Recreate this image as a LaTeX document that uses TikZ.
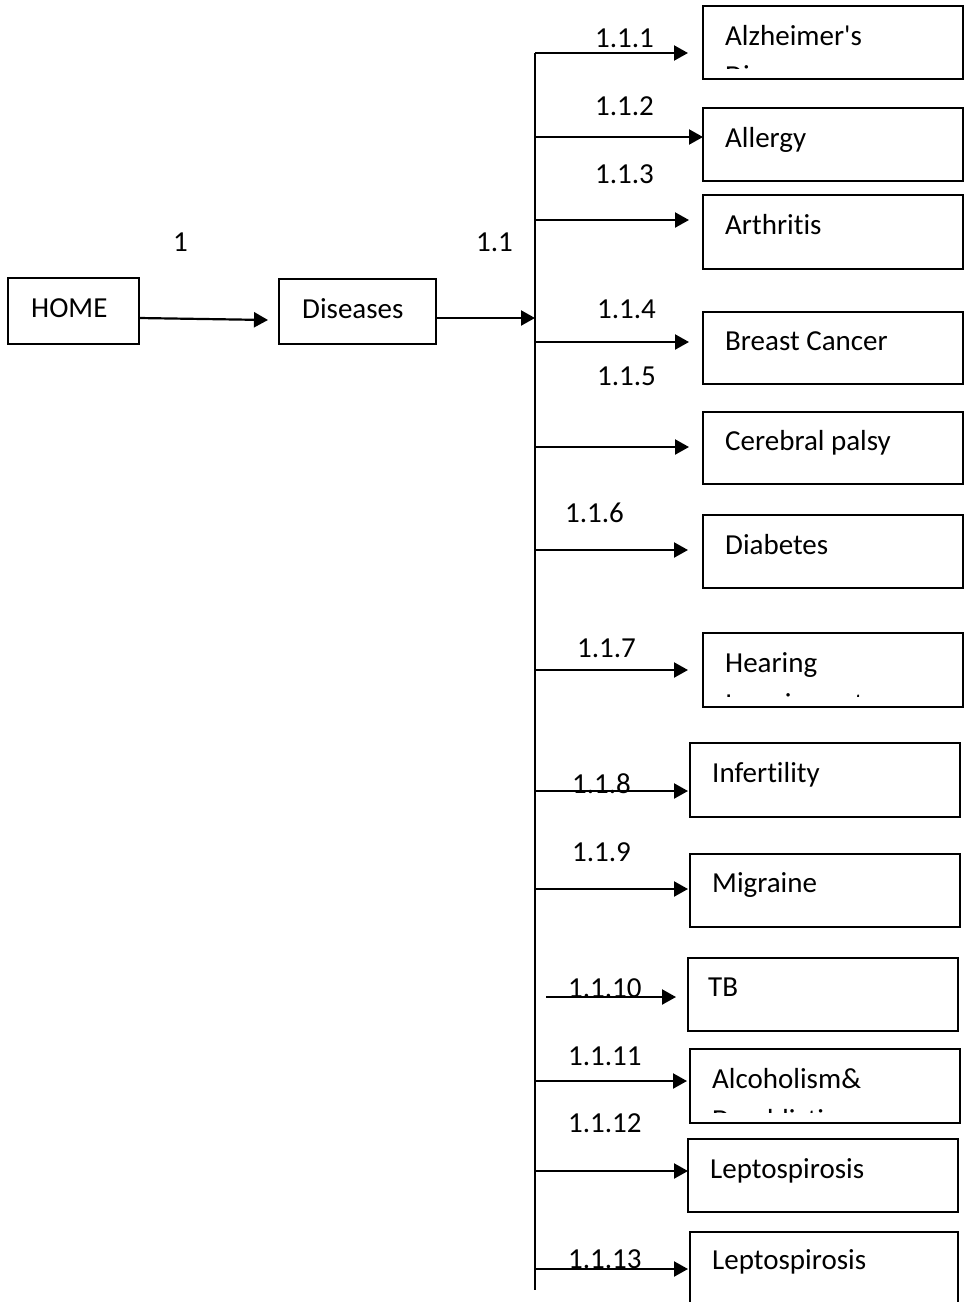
\documentclass[tikz,border=0pt]{standalone}
\usepackage{fontspec}
\setmainfont{Carlito}[Ligatures={NoCommon}]
\usetikzlibrary{arrows.meta}

\newcommand\labfont{\fontsize{29}{34}\selectfont}

\tikzset{
  box/.style={draw, line width=1.6pt, rectangle, inner sep=0pt, outer sep=0pt, anchor=north west},
  txt/.style={anchor=base west, inner sep=0pt, font=\labfont},
  conn/.style={line width=2.2pt, -{Triangle[length=14pt,width=15pt]}},
  trunkline/.style={line width=2pt}
}

\begin{document}
\begin{tikzpicture}[x=1pt, y=-1pt]
\useasboundingbox (0,0) rectangle (964,1302);

% top level pages
\node[box, minimum width=131pt, minimum height=66pt] (home) at (8,278) {};
\node[txt] (homet) at (31,317) {HOME};
\node[box, minimum width=157pt, minimum height=65pt] (dis) at (279,279) {};
\node[txt] (dist) at (302,318) {Diseases};
\node[txt] (l1) at (173,251) {1};
\node[txt] (l11) at (476,251) {1.1};

% vertical distribution line
\coordinate (ttop) at (535,53);
\coordinate (tbot) at (535,1290);
\coordinate (tin) at (535,318);
\draw[trunkline] (ttop) -- (tbot);

\draw[conn] ([yshift=-7pt]home.east) -- ([xshift=-11pt,yshift=-8.5pt]dis.west);
\draw[conn] ([yshift=-6.5pt]dis.east) -- (tin);

% disease pages
\node[box, minimum width=260pt, minimum height=73pt] (b1) at (703,6) {};
\node[box, minimum width=260pt, minimum height=73pt] (b2) at (703,108) {};
\node[box, minimum width=260pt, minimum height=74pt] (b3) at (703,195) {};
\node[box, minimum width=260pt, minimum height=72pt] (b4) at (703,312) {};
\node[box, minimum width=260pt, minimum height=72pt] (b5) at (703,412) {};
\node[box, minimum width=260pt, minimum height=73pt] (b6) at (703,515) {};
\node[box, minimum width=260pt, minimum height=74pt] (b7) at (703,633) {};
\node[box, minimum width=270pt, minimum height=74pt] (b8) at (690,743) {};
\node[box, minimum width=270pt, minimum height=73pt] (b9) at (690,854) {};
\node[box, minimum width=270pt, minimum height=73pt] (b10) at (688,958) {};
\node[box, minimum width=270pt, minimum height=74pt] (b11) at (690,1049) {};
\node[box, minimum width=270pt, minimum height=73pt] (b12) at (688,1139) {};
\node[box, minimum width=268pt, minimum height=80pt] (b13) at (690,1232) {};

\node[txt] (t1) at (725,45) {Alzheimer\textquotesingle s};
\node[txt] (t2) at (725,147) {Allergy};
\node[txt] (t3) at (725,234) {Arthritis};
\node[txt] (t4) at (725,350) {Breast Cancer};
\node[txt] (t5) at (725,450) {Cerebral palsy};
\node[txt] (t6) at (725,554) {Diabetes};
\node[txt] (t7) at (725,672) {Hearing};
\node[txt] (t8) at (712,782) {Infertility};
\node[txt] (t9) at (712,892) {Migraine};
\node[txt] (t10) at (708,996) {TB};
\node[txt] (t11) at (712,1088) {Alcoholism\&};
\node[txt] (t12) at (710,1178) {Leptospirosis};
\node[txt] (t13) at (712,1269) {Leptospirosis};

% second lines cut off by the text frames
\begin{scope}
  \clip (b1.north west) rectangle ([yshift=11pt]b1.south east);
  \node[txt] (t1b) at (725,85) {Disease};
\end{scope}
\begin{scope}
  \clip (b7.north west) rectangle ([yshift=11pt]b7.south east);
  \node[txt] (t7b) at (725,713) {Impairment};
\end{scope}
\begin{scope}
  \clip (b11.north west) rectangle ([yshift=11pt]b11.south east);
  \node[txt] (t11b) at (712,1129) {Deaddiction};
\end{scope}

% branch points on the vertical line
\coordinate (s1) at (535,53);
\coordinate (s2) at (535,137);
\coordinate (s3) at (535,220);
\coordinate (s4) at (535,342);
\coordinate (s5) at (535,447);
\coordinate (s6) at (535,550);
\coordinate (s7) at (535,670);
\coordinate (s8) at (535,791);
\coordinate (s9) at (535,889);
\coordinate (s10) at (546,997);
\coordinate (s11) at (535,1081);
\coordinate (s12) at (535,1171);
\coordinate (s13) at (535,1269);

\draw[conn] (s1) -- ([xshift=-15pt]b1.west |- s1);
\draw[conn] (s2) -- (b2.west |- s2);
\draw[conn] (s3) -- ([xshift=-14pt]b3.west |- s3);
\draw[conn] (s4) -- ([xshift=-14pt]b4.west |- s4);
\draw[conn] (s5) -- ([xshift=-14pt]b5.west |- s5);
\draw[conn] (s6) -- ([xshift=-15pt]b6.west |- s6);
\draw[conn] (s7) -- ([xshift=-15pt]b7.west |- s7);
\draw[conn] (s8) -- ([xshift=-2pt]b8.west |- s8);
\draw[conn] (s9) -- ([xshift=-2pt]b9.west |- s9);
\draw[conn] (s10) -- ([xshift=-12pt]b10.west |- s10);
\draw[conn] (s11) -- ([xshift=-3pt]b11.west |- s11);
\draw[conn] (s12) -- (b12.west |- s12);
\draw[conn] (s13) -- ([xshift=-2pt]b13.west |- s13);

% branch numbers
\node[txt] (n1) at (595,47) {1.1.1};
\node[txt] (n2) at (595,115) {1.1.2};
\node[txt] (n3) at (595,183) {1.1.3};
\node[txt] (n4) at (597,318) {1.1.4};
\node[txt] (n5) at (597,385) {1.1.5};
\node[txt] (n6) at (565,522) {1.1.6};
\node[txt] (n7) at (577,657) {1.1.7};
\node[txt] (n8) at (572,793) {1.1.8};
\node[txt] (n9) at (572,861) {1.1.9};
\node[txt] (n10) at (568,997) {1.1.10};
\node[txt] (n11) at (568,1065) {1.1.11};
\node[txt] (n12) at (568,1132) {1.1.12};
\node[txt] (n13) at (568,1268) {1.1.13};
\end{tikzpicture}
\end{document}
